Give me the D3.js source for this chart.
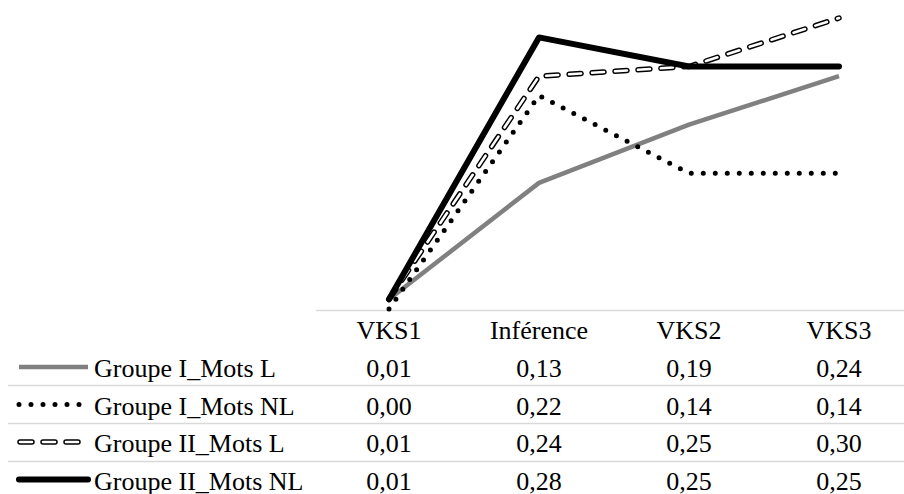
<!DOCTYPE html>
<html>
<head>
<meta charset="utf-8">
<script src="https://cdn.jsdelivr.net/npm/d3@7"></script>
<style>
  html, body { margin: 0; padding: 0; background: #fff; }
  svg { display: block; }
</style>
</head>
<body>
<svg id="chart" width="904" height="494"></svg>
<script>
const categories = ["VKS1", "Inférence", "VKS2", "VKS3"];
const seriesNames = ["Groupe I_Mots L", "Groupe I_Mots NL", "Groupe II_Mots L", "Groupe II_Mots NL"];
const groupeIMotsL = [0.01, 0.13, 0.19, 0.24];
const groupeIMotsNL = [0.00, 0.22, 0.14, 0.14];
const groupeIIMotsL = [0.01, 0.24, 0.25, 0.30];
const groupeIIMotsNL = [0.01, 0.28, 0.25, 0.25];

const seriesValues = [groupeIMotsL, groupeIMotsNL, groupeIIMotsL, groupeIIMotsNL];
const styles = ["gray", "dot", "double", "black"];
const FONT = "Liberation Serif";
const FS = 26;

const svg = d3.select("#chart");
const W = 904, H = 494;

const x = d3.scaleBand().domain(categories).range([314, 914]);
const y = d3.scaleLinear().domain([0, 0.30]).range([309, 18]);
const cx = c => x(c) + x.bandwidth() / 2;

const locale = d3.formatLocale({ decimal: ",", thousands: " ", grouping: [3], currency: ["", " €"] });
const fmt = locale.format(".2f");

// axis line (table top)
svg.append("line")
  .attr("x1", 316).attr("x2", W)
  .attr("y1", 310.5).attr("y2", 310.5)
  .attr("stroke", "#d9d9d9").attr("stroke-width", 1.5);

// row separators
const sepY = [385.5, 423.5, 461.5];
svg.selectAll("line.sep").data(sepY).enter().append("line")
  .attr("class", "sep")
  .attr("x1", 8).attr("x2", W)
  .attr("y1", d => d).attr("y2", d => d)
  .attr("stroke", "#d9d9d9").attr("stroke-width", 1.5);

function applyStyle(sel, style, layer) {
  sel.attr("fill", "none").attr("stroke-linejoin", "round");
  if (style === "gray") {
    sel.attr("stroke", "#808080").attr("stroke-width", 4.5).attr("stroke-linecap", "butt");
  } else if (style === "dot") {
    sel.attr("stroke", "#000").attr("stroke-width", 5).attr("stroke-linecap", "round")
       .attr("stroke-dasharray", "0 12");
  } else if (style === "double") {
    if (layer === 0) {
      sel.attr("stroke", "#000").attr("stroke-width", 5.5).attr("stroke-linecap", "round")
         .attr("stroke-dasharray", "12 11");
    } else {
      sel.attr("stroke", "#fff").attr("stroke-width", 2.6).attr("stroke-linecap", "round")
         .attr("stroke-dasharray", "12 11");
    }
  } else {
    sel.attr("stroke", "#000").attr("stroke-width", 6).attr("stroke-linecap", "round");
  }
}

const line = d3.line().x((d, i) => cx(categories[i])).y(d => y(d));

seriesValues.forEach((vals, si) => {
  const st = styles[si];
  const layers = st === "double" ? [0, 1] : [0];
  layers.forEach(l => {
    applyStyle(svg.append("path").datum(vals).attr("d", line), st, l);
  });
});

// header
const headerBaseline = 338.5;
svg.selectAll("text.hdr").data(categories).enter().append("text")
  .attr("class", "hdr")
  .attr("x", d => cx(d)).attr("y", headerBaseline)
  .attr("text-anchor", "middle")
  .attr("font-family", FONT).attr("font-size", FS).attr("fill", "#000")
  .text(d => d);

// rows
const rowBaselines = [377, 414.5, 452, 489.5];
seriesNames.forEach((name, si) => {
  const by = rowBaselines[si];
  const sy = by - 10;
  const st = styles[si];
  const layers = st === "double" ? [0, 1] : [0];
  const x1 = st === "dot" ? 19 : (st === "double" ? 20 : 19);
  const x2 = st === "dot" ? 81 : (st === "double" ? 78 : 88);
  layers.forEach(l => {
    const p = svg.append("path").attr("d", `M${x1},${sy}L${x2},${sy}`);
    applyStyle(p, st, l);
  });
  svg.append("text")
    .attr("x", 94).attr("y", by)
    .attr("font-family", FONT).attr("font-size", FS).attr("fill", "#000")
    .text(name);
  svg.selectAll(null).data(seriesValues[si]).enter().append("text")
    .attr("x", (d, i) => cx(categories[i])).attr("y", by)
    .attr("text-anchor", "middle")
    .attr("font-family", FONT).attr("font-size", FS).attr("fill", "#000")
    .text(d => fmt(d));
});
</script>
</body>
</html>
